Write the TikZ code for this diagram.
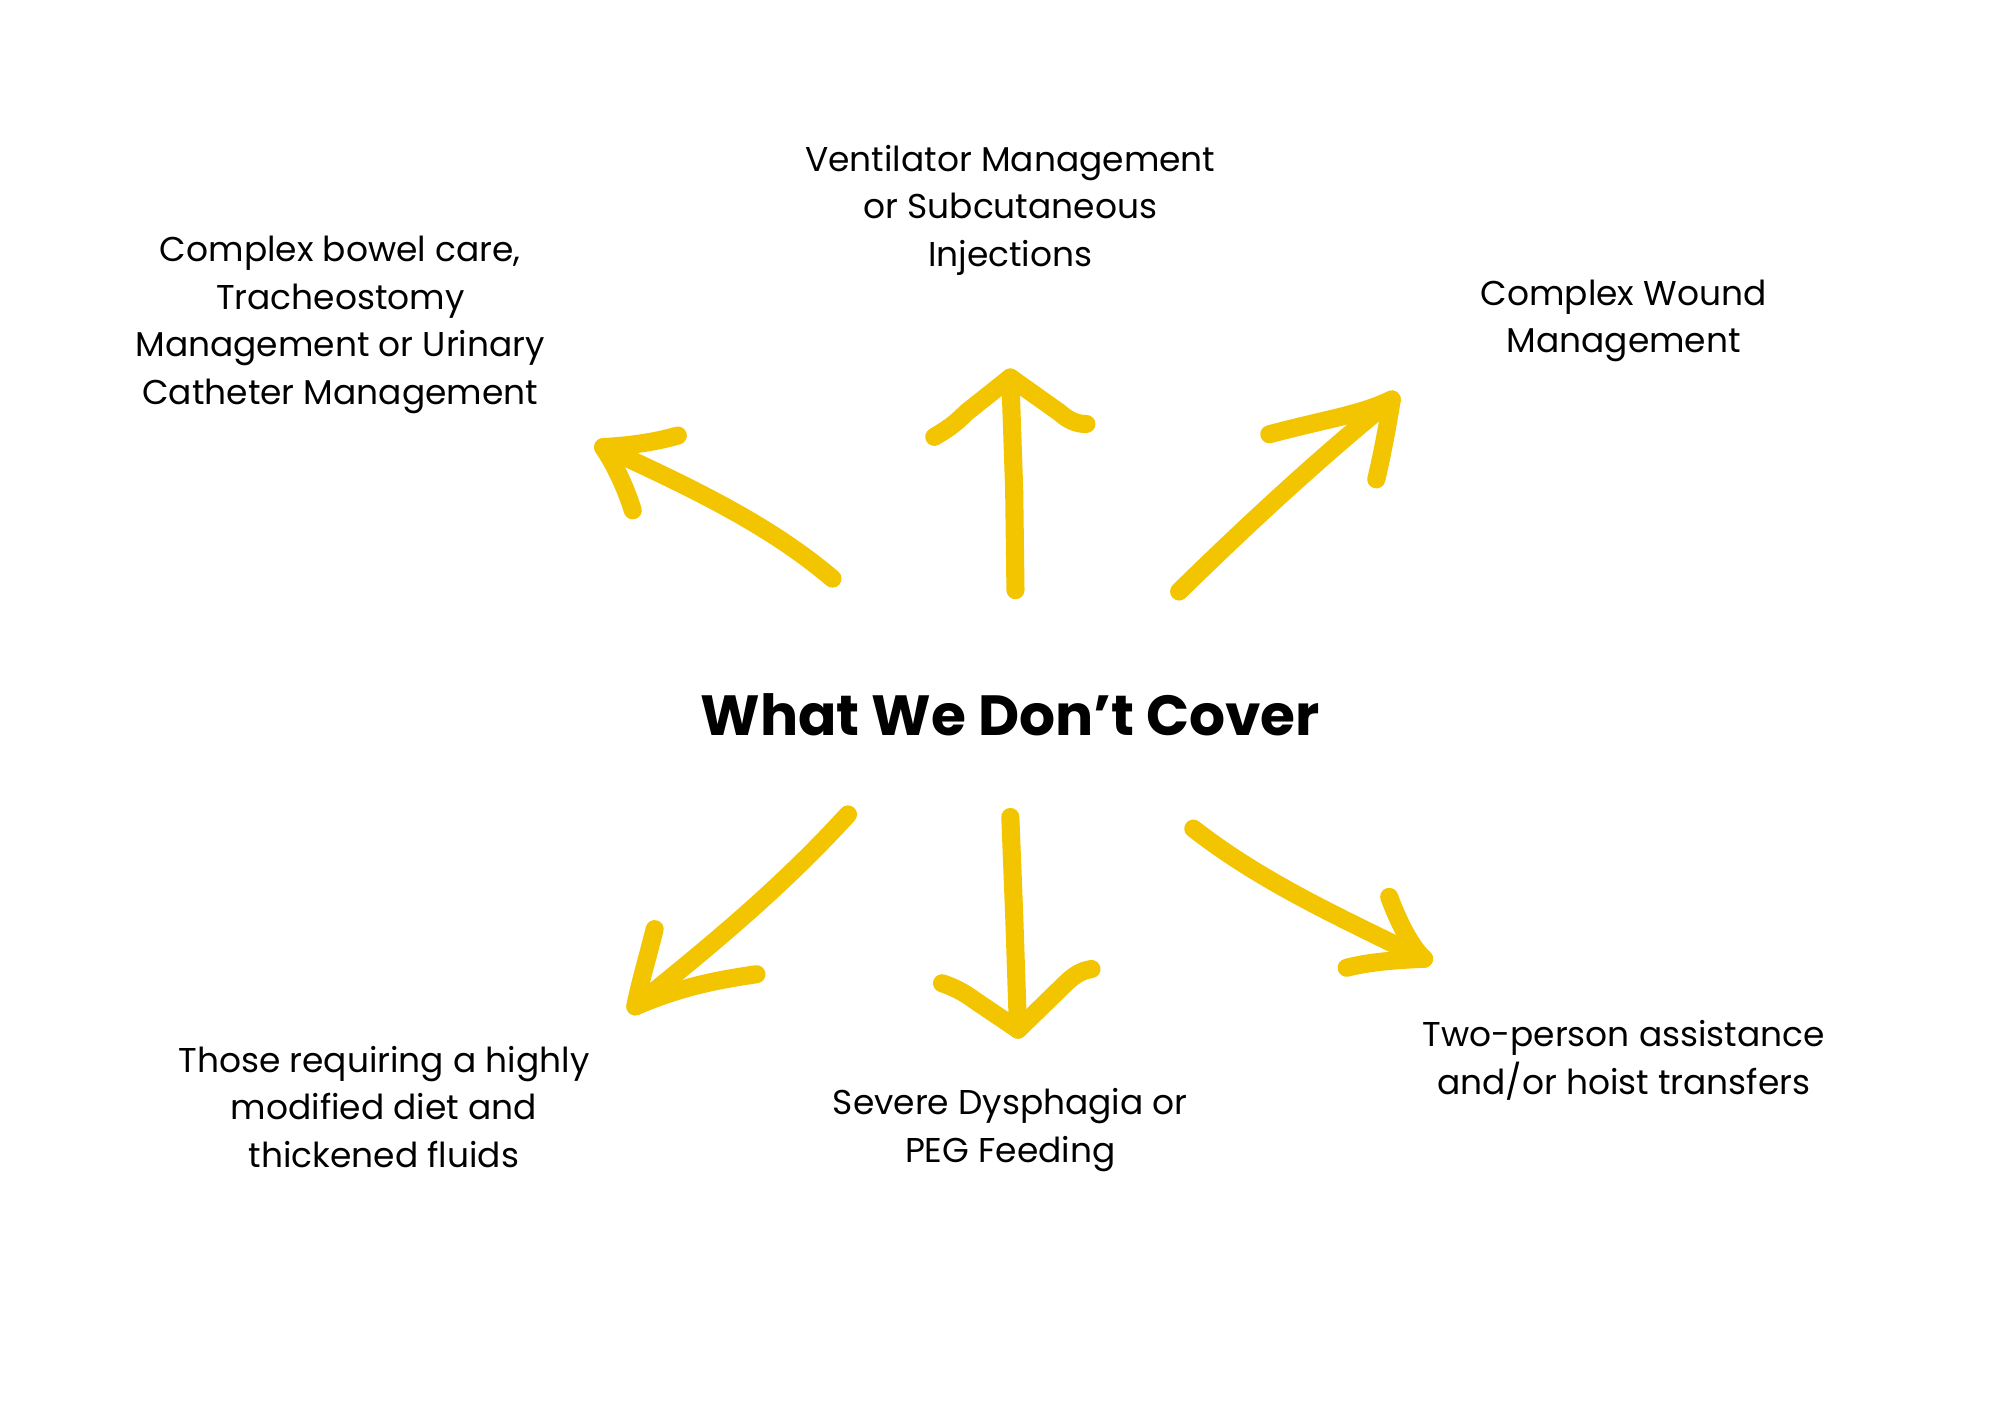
\documentclass[tikz,border=0pt]{standalone}
\usepackage{fontspec}
\setmainfont{Poppins}
\definecolor{arrowyellow}{RGB}{242,197,0}
\begin{document}
\begin{tikzpicture}[x=0.1mm,y=-0.1mm,
  brush/.style={draw=arrowyellow,line width=4pt,line cap=round,line join=round},
  label/.style={align=center,font=\fontsize{7.6}{10.5}\selectfont,text=black,inner sep=0pt},
  title/.style={font=\fontsize{12.5}{15}\selectfont\bfseries,text=black,inner sep=0pt}]
\useasboundingbox[fill=white] (0,0) rectangle (1552,1097);
% texts
\node[title] (center) at (784,555) {What We Don’t Cover};
\node[label] (top) at (784,163) {Ventilator Management\\or Subcutaneous\\Injections};
\node[label] (ul) at (264,252) {Complex bowel care,\\Tracheostomy\\Management or Urinary\\Catheter Management};
\node[label] (ur) at (1260,249) {Complex Wound\\Management};
\node[label] (ll) at (298,859) {Those requiring a highly\\modified diet and\\thickened fluids};
\node[label] (bot) at (784,877) {Severe Dysphagia or\\PEG Feeding};
\node[label] (lr) at (1260,823) {Two-person assistance\\and/or hoist transfers};
% upper-left arrow
\coordinate (ulS) at (646,449);
\coordinate (ulT) at (468,347);
\draw[brush] (ulS) .. controls (600,410) and (545,382) .. (ulT);
\draw[brush] (526,338) .. controls (505,344) and (485,346) .. (ulT) .. controls (478,362) and (486,380) .. (491,396);
% up arrow
\coordinate (upS) at (788,458);
\coordinate (upT) at (784,293);
\draw[brush] (upS) -- (787,380) -- (upT);
\draw[brush] (725,339) .. controls (735,333) and (740,330) .. (750,320) -- (upT) -- (822,320) .. controls (830,327) and (836,329) .. (843,329);
% upper-right arrow
\coordinate (urS) at (915,459);
\coordinate (urT) at (1080,310);
\draw[brush] (urS) .. controls (970,405) and (1030,350) .. (urT);
\draw[brush] (985,337) .. controls (1030,325) and (1055,322) .. (urT) .. controls (1076,335) and (1072,355) .. (1068,372);
% lower-left arrow
\coordinate (llS) at (658,632);
\coordinate (llT) at (493,781);
\draw[brush] (llS) .. controls (605,690) and (550,735) .. (llT);
\draw[brush] (508,721) .. controls (502,745) and (496,765) .. (llT) .. controls (530,765) and (560,760) .. (587,756);
% down arrow
\coordinate (dnS) at (784,634);
\coordinate (dnT) at (790,799);
\draw[brush] (dnS) -- (787,710) -- (dnT);
\draw[brush] (731,763) .. controls (740,766) and (748,770) .. (756,776) -- (dnT) -- (826,764) .. controls (834,756) and (840,753) .. (847,752);
% lower-right arrow
\coordinate (lrS) at (926,643);
\coordinate (lrT) at (1105,744);
\draw[brush] (lrS) .. controls (980,685) and (1040,712) .. (lrT);
\draw[brush] (1078,696) .. controls (1085,715) and (1095,735) .. (lrT) .. controls (1080,745) and (1060,747) .. (1045,751);
\end{tikzpicture}
\end{document}
